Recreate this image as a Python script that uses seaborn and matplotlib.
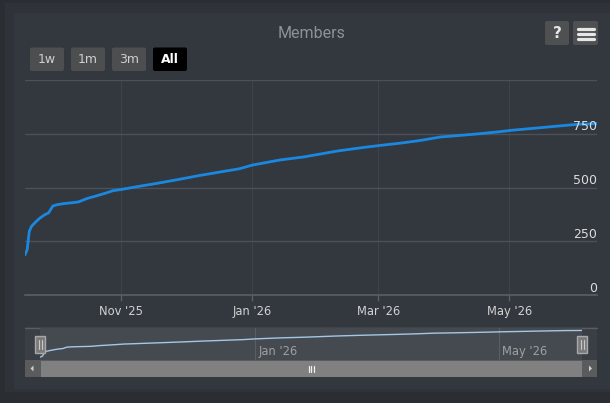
import matplotlib
matplotlib.use("Agg")
import matplotlib.pyplot as plt
from matplotlib.patches import Rectangle, FancyBboxPatch, Polygon
import matplotlib.dates as mdates
import seaborn as sns
import pandas as pd

# ---------------- data ----------------
dates = ["2025-09-17", "2025-09-18", "2025-09-19", "2025-09-20", "2025-09-22",
         "2025-09-24", "2025-09-26", "2025-09-28", "2025-09-30", "2025-10-02",
         "2025-10-05", "2025-10-08", "2025-10-12", "2025-10-16", "2025-10-20",
         "2025-10-25", "2025-10-28", "2025-11-01", "2025-11-09", "2025-11-18",
         "2025-11-28", "2025-12-07", "2025-12-17", "2025-12-26", "2026-01-01",
         "2026-01-14", "2026-01-25", "2026-02-10", "2026-02-21", "2026-03-02",
         "2026-03-11", "2026-03-20", "2026-03-30", "2026-04-09", "2026-04-17",
         "2026-04-27", "2026-05-02", "2026-05-11", "2026-05-23", "2026-06-02",
         "2026-06-08", "2026-06-11"]
members = [187, 210, 296, 319, 340,
           358, 372, 382, 414, 420,
           425, 428, 433, 449, 460,
           475, 485, 491, 505, 520,
           538, 555, 572, 587, 604,
           628, 642, 670, 685, 696,
           706, 718, 735, 743, 750,
           760, 766, 774, 785, 794,
           796, 798]

y_ticks = [0, 250, 500, 750]
y_labels = ["0", "250", "500", "750"]
x_tick_dates = ["2025-11-01", "2026-01-01", "2026-03-01", "2026-05-01"]
x_tick_labels = ["Nov '25", "Jan '26", "Mar '26", "May '26"]
nav_tick_dates = ["2026-01-01", "2026-05-01"]
nav_tick_labels = ["Jan '26", "May '26"]
buttons = ["1w", "1m", "3m", "All"]
title = "Members"

df = pd.DataFrame({"date": pd.to_datetime(dates), "members": members})

# ---------------- figure ----------------
W, H = 610, 403
sns.set_theme(style="dark")
plt.rcParams["font.family"] = ["DejaVu Sans"]
fig = plt.figure(figsize=(W / 100, H / 100), dpi=100, facecolor="#2a2d32")


def px_axes(x0, y0, x1, y1, **kw):
    return fig.add_axes([x0 / W, 1 - y1 / H, (x1 - x0) / W, (y1 - y0) / H], **kw)


# background panel (pixel coordinate overlay, behind)
bg = px_axes(0, 0, W, H, zorder=0)
bg.set_xlim(0, W); bg.set_ylim(H, 0); bg.axis("off")
bg.add_patch(Rectangle((5, 3), W - 5, 389, color="#2f3238", lw=0))
bg.add_patch(Rectangle((14, 13), W - 14, 376, color="#33373e", lw=0))
# navigator background + scrollbar
bg.add_patch(Rectangle((25, 327), 572, 33, color="#3a3e45", lw=0))
bg.add_patch(Rectangle((25, 360), 572, 17, color="#5a5b5d", lw=0))
bg.add_patch(Rectangle((40.5, 360.5), 541.5, 16, color="#808080", lw=0))
bg.plot([25, 597], [327.5, 327.5], color="#5a5d63", lw=1)

# ---------------- main chart ----------------
x_min, x_max = pd.Timestamp("2025-09-17"), pd.Timestamp("2026-06-11")
ax = px_axes(25, 80, 597, 295, zorder=1)
ax.set_facecolor("none")
sns.lineplot(data=df, x="date", y="members", ax=ax, color="#1a88e0",
             linewidth=2.0, zorder=3)
ax.set_xlim(x_min, x_max)
ax.set_ylim(0, 1000)
ax.set_yticks(y_ticks + [1000])
ax.set_yticklabels([])
ax.tick_params(axis="y", length=0)
ax.grid(axis="y", color="#4d5056", lw=1)
xt = pd.to_datetime(x_tick_dates)
ax.set_xticks(xt)
ax.set_xticklabels(x_tick_labels)
ax.grid(axis="x", color="#3f4249", lw=0.8)
ax.tick_params(axis="x", colors="#5b5e63", length=4.5, width=1, pad=3,
               labelcolor="#d2d2d2", labelsize=8.3, bottom=True, direction="out")
ax.set_xlabel(""); ax.set_ylabel("")
for s in ["top", "left", "right"]:
    ax.spines[s].set_visible(False)
ax.spines["bottom"].set_color("#5b5e63")
ax.spines["bottom"].set_linewidth(1.2)
for v, lab in zip(y_ticks, y_labels):
    ax.annotate(lab, xy=(1.0, v), xycoords=ax.get_yaxis_transform(),
                xytext=(0, 5), textcoords="offset points", ha="right",
                va="center", color="#dcdcdc", fontsize=9, zorder=6,
                annotation_clip=False)

# ---------------- navigator ----------------
nav = px_axes(40.5, 327.5, 582, 360, zorder=1)
nav.set_facecolor("#454950")
sns.lineplot(data=df, x="date", y="members", ax=nav, color="#a6c6e6",
             linewidth=1.0, zorder=3)
nav.set_xlim(x_min, x_max)
nav.set_ylim(119, 865)
nt = pd.to_datetime(nav_tick_dates)
nav.set_xticks(nt)
nav.set_xticklabels([])
nav.set_yticks([])
nav.tick_params(length=0)
nav.grid(axis="x", color="#595d64", lw=0.8)
nav.grid(axis="y", visible=False)
nav.set_xlabel(""); nav.set_ylabel("")
for s in nav.spines.values():
    s.set_visible(False)
for d, lab in zip(nt, nav_tick_labels):
    nav.annotate(lab, xy=(mdates.date2num(d), 0), xycoords=nav.get_xaxis_transform(),
                 xytext=(2.5, 6), textcoords="offset points", ha="left",
                 va="center", color="#a0a0a0", fontsize=8.3)

# ---------------- overlay (buttons, title, handles) ----------------
ov = px_axes(0, 0, W, H, zorder=5)
ov.set_xlim(0, W); ov.set_ylim(H, 0); ov.axis("off")
ov.patch.set_alpha(0)

ov.text(312, 33, title, ha="center", va="center", color="#8e9196",
        fontsize=11.5, family=["Roboto", "DejaVu Sans"])

bx = [30, 71, 112, 153]
for x0, lab in zip(bx, buttons):
    sel = lab == "All"
    ov.add_patch(FancyBboxPatch((x0, 47.5), 34, 23.5,
                                boxstyle="round,pad=0,rounding_size=2",
                                fc="#000000" if sel else "#4d4e50", ec="none"))
    ov.text(x0 + 17, 59.5, lab, ha="center", va="center",
            color="#ffffff" if sel else "#cfcfcf", fontsize=9,
            fontweight="bold" if sel else "normal")

# help + menu buttons
ov.add_patch(FancyBboxPatch((545, 21), 24, 24, boxstyle="round,pad=0,rounding_size=2",
                            fc="#4f5052", ec="none"))
ov.text(557, 33.5, "?", ha="center", va="center", color="#e6e6e6",
        fontsize=11, fontweight="bold")
ov.add_patch(FancyBboxPatch((573, 21), 25, 24, boxstyle="round,pad=0,rounding_size=2",
                            fc="#4f5052", ec="none"))
for yy in [28.5, 33.5, 38.5]:
    ov.plot([577.5, 593.5], [yy, yy], color="#e6e6e6", lw=2.3,
            solid_capstyle="round")

# navigator handles
for cx in [40, 582]:
    ov.add_patch(Rectangle((cx - 5, 335.5), 10, 17, fc="#7a7a7a", ec="#a8a8a8", lw=1))
    for dx in [-1.5, 1.5]:
        ov.plot([cx + dx, cx + dx], [339.5, 348.5], color="#c8c8c8", lw=0.8)

# scrollbar arrows and grip
ov.add_patch(Polygon([[30.5, 368.5], [33.5, 365.5], [33.5, 371.5]], closed=True,
                     fc="#cfcfcf", ec="none"))
ov.add_patch(Polygon([[592, 368.5], [589, 365.5], [589, 371.5]], closed=True,
                     fc="#cfcfcf", ec="none"))
for gx in [308.5, 311, 313.5]:
    ov.plot([gx, gx], [365.5, 371.5], color="#f0f0f0", lw=0.9)

fig.savefig("out.png", dpi=100, facecolor=fig.get_facecolor())
